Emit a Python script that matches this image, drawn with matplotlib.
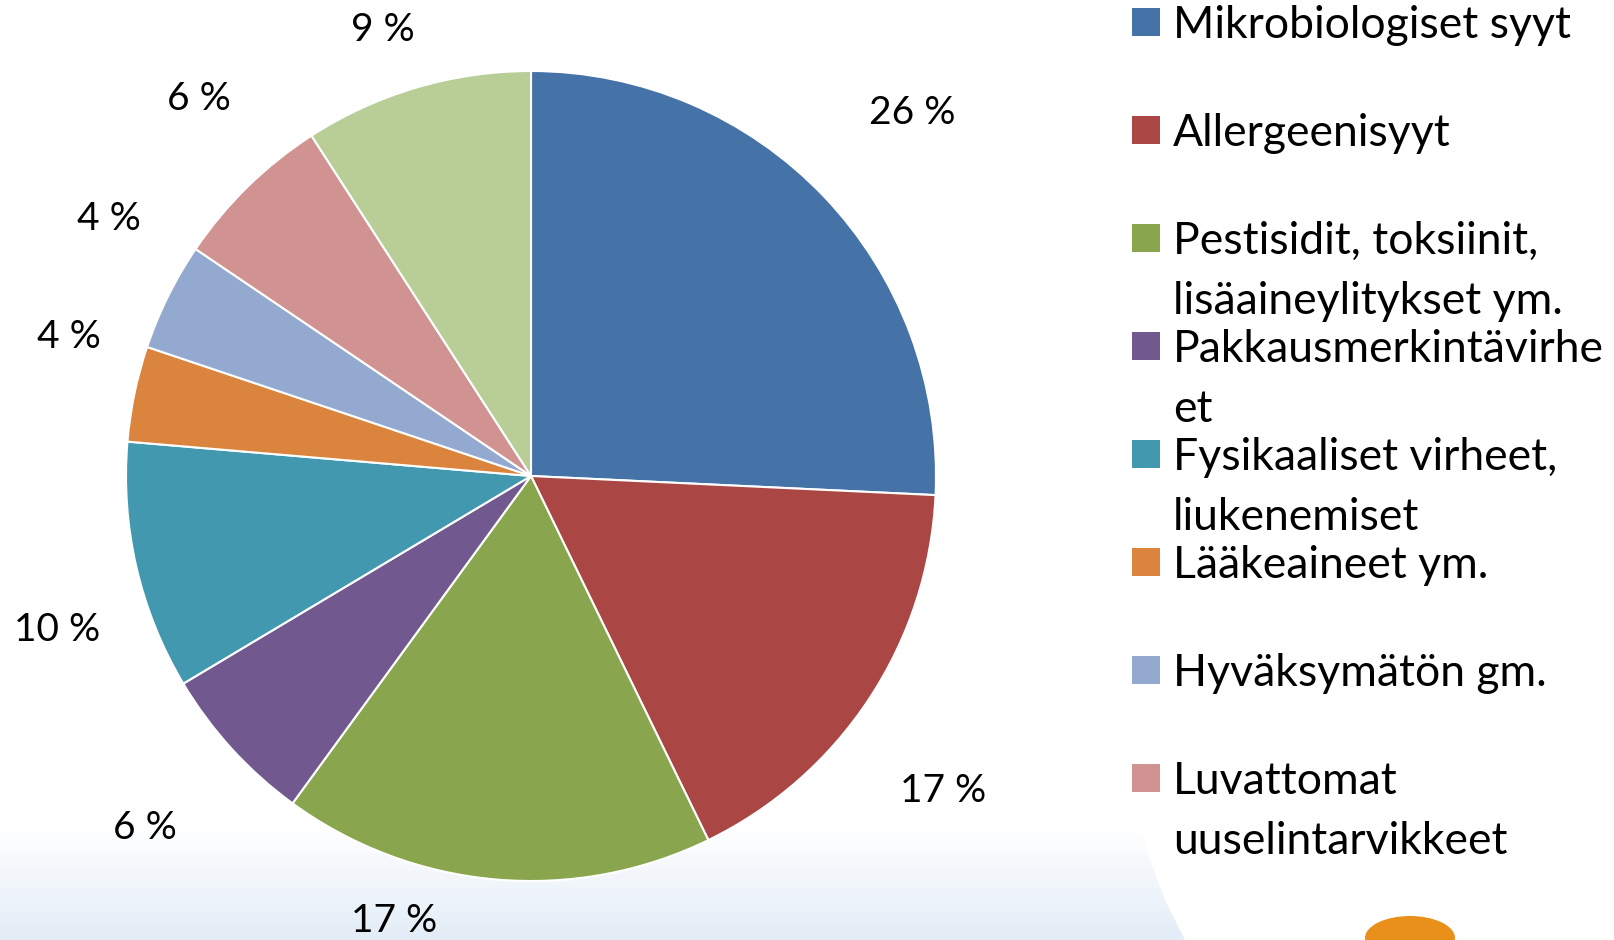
import numpy as np
import matplotlib
matplotlib.use("Agg")
import matplotlib.pyplot as plt
from matplotlib.patches import Rectangle, Polygon, Ellipse

# Data
categories = [
    "Mikrobiologiset syyt",
    "Allergeenisyyt",
    "Pestisidit, toksiinit,\nlisäaineylitykset ym.",
    "Pakkausmerkintävirhe\net",
    "Fysikaaliset virheet,\nliukenemiset",
    "Lääkeaineet ym.",
    "Hyväksymätön gm.",
    "Luvattomat\nuuselintarvikkeet",
    "Muut",
]
shares = [25.7, 17.0, 17.2, 6.4, 9.9, 3.8, 4.3, 6.4, 9.1]
colors = ["#4572A7", "#AA4643", "#89A54E", "#71588F", "#4198AF",
          "#DB843D", "#93A9CF", "#D19392", "#B9CD96"]
n_legend = 8  # last slice has no legend entry visible

# label placement (best-fit style, like the original)
label_radius = [1.30, 1.28, 1.15, 1.29, 1.23, 1.19, 1.22, 1.24, 1.16]
label_shift = [0, -4, -12, 0, 5, -5, -5, -3, 2]  # degrees from wedge middle

W, H = 1614, 940
FONT = "Lato"
TEXT_COLOR = "#000000"

fig = plt.figure(figsize=(W / 100, H / 100), dpi=100)
fig.patch.set_facecolor("white")

# background: soft blue gradient at the bottom with a white curved panel on the right
bg = fig.add_axes([0, 0, 1, 1])
bg.set_xlim(0, W)
bg.set_ylim(0, H)
bg.axis("off")
grad = np.linspace(0, 1, 200).reshape(-1, 1)
grad = np.clip(grad / 0.12, 0, 1)
top_c = np.array([1.0, 1.0, 1.0])
bot_c = np.array([0.89, 0.93, 0.97])
img = bot_c + (top_c - bot_c) * grad[..., None]
bg.imshow(img, extent=[0, W, 0, H], origin="lower", aspect="auto", zorder=0)
bg.add_patch(Polygon([(1135, H), (W, H), (W, 0), (1185, 0), (1165, 40),
                      (1150, 80), (1140, 115), (1135, 150)],
                     closed=True, facecolor="white", edgecolor="none", zorder=1))
bg.add_patch(Ellipse((1410, 2), 90, 44, facecolor="#E8901A", edgecolor="none", zorder=2))

# pie
cx, cy, R = 531, 476, 405
ax = fig.add_axes([(cx - R) / W, (H - cy - R) / H, 2 * R / W, 2 * R / H])
wedges, _ = ax.pie(
    shares,
    colors=colors,
    startangle=90,
    counterclock=False,
    wedgeprops=dict(edgecolor="white", linewidth=1.5),
)
ax.set_xlim(-1, 1)
ax.set_ylim(-1, 1)
ax.set_aspect("equal")

for w, v, r, s in zip(wedges, shares, label_radius, label_shift):
    mid = np.deg2rad((w.theta1 + w.theta2) / 2 + s)
    ax.text(r * np.cos(mid), r * np.sin(mid), f"{v:.0f} %",
            ha="center", va="center", fontsize=28, family=FONT, color=TEXT_COLOR)

# legend drawn as squares + text
x_sq, x_txt = 1132, 1173
y0, slot, sq = 22, 108, 28
line_gap = 60
for i in range(n_legend):
    yc = y0 + i * slot
    bg.add_patch(Rectangle((x_sq, H - yc - sq / 2), sq, sq,
                           facecolor=colors[i], edgecolor="none", zorder=3))
    for k, line in enumerate(categories[i].split("\n")):
        bg.text(x_txt, H - yc - 16 - k * line_gap, line, fontsize=32, family=FONT,
                color=TEXT_COLOR, va="baseline", ha="left", zorder=3)

fig.savefig("out.png", dpi=100, facecolor="white")
